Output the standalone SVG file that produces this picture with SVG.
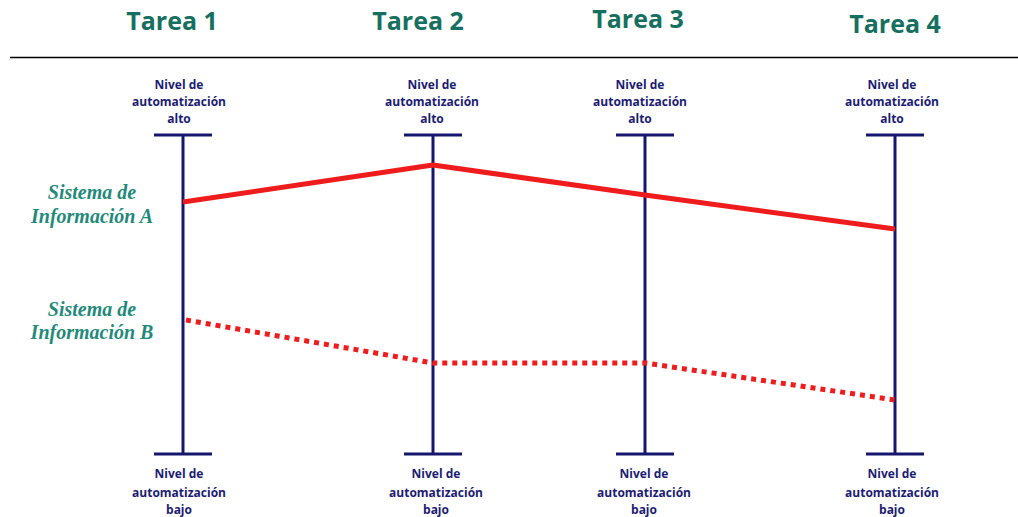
<svg xmlns="http://www.w3.org/2000/svg" width="1018" height="517" viewBox="0 0 1018 517">
  <style>
    .title { font-family: "Open Sans", "Liberation Sans", sans-serif; font-weight: bold; font-size: 25px; fill: #17705f; text-anchor: middle; }
    .lvl { font-family: "Open Sans", "Liberation Sans", sans-serif; font-weight: bold; font-size: 12px; fill: #1c1c72; text-anchor: middle; }
    .sys { font-family: "Liberation Serif", serif; font-weight: bold; font-style: italic; font-size: 20px; fill: #25897a; text-anchor: middle; }
    .axis { stroke: #16166e; stroke-width: 3; fill: none; }
    .solid { stroke: #ee1c1c; stroke-width: 5; fill: none; stroke-linejoin: round; }
    .dotted { stroke: #ee1c1c; stroke-width: 5; fill: none; stroke-dasharray: 5 5; }
  </style>
  <rect width="1018" height="517" fill="#ffffff"/>

  <!-- task headers -->
  <g id="headers">
    <text class="title" x="172" y="30">Tarea 1</text>
    <text class="title" x="418" y="30">Tarea 2</text>
    <text class="title" x="638" y="28">Tarea 3</text>
    <text class="title" x="895" y="33">Tarea 4</text>
    <line x1="10" y1="57.5" x2="1018" y2="57.5" stroke="#000" stroke-width="1.5"/>
  </g>

  <!-- system labels -->
  <g id="sistema-a">
    <text class="sys" x="92" y="199">Sistema de</text>
    <text class="sys" x="92" y="223">Información A</text>
  </g>
  <g id="sistema-b">
    <text class="sys" x="92" y="316">Sistema de</text>
    <text class="sys" x="92" y="339">Información B</text>
  </g>

  <!-- automation scales -->
  <g id="escala-1">
    <line class="axis" x1="154" y1="135" x2="212" y2="135"/>
    <line class="axis" x1="183" y1="135" x2="183" y2="454"/>
    <line class="axis" x1="154" y1="454" x2="212" y2="454"/>
    <text class="lvl" x="179" y="89">Nivel de</text>
    <text class="lvl" x="179" y="106">automatización</text>
    <text class="lvl" x="179" y="123">alto</text>
    <text class="lvl" x="179" y="478">Nivel de</text>
    <text class="lvl" x="179" y="497">automatización</text>
    <text class="lvl" x="179" y="514">bajo</text>
  </g>
  <g id="escala-2">
    <line class="axis" x1="404" y1="135" x2="462" y2="135"/>
    <line class="axis" x1="433" y1="135" x2="433" y2="454"/>
    <line class="axis" x1="404" y1="454" x2="462" y2="454"/>
    <text class="lvl" x="432" y="89">Nivel de</text>
    <text class="lvl" x="432" y="106">automatización</text>
    <text class="lvl" x="432" y="123">alto</text>
    <text class="lvl" x="436" y="478">Nivel de</text>
    <text class="lvl" x="436" y="497">automatización</text>
    <text class="lvl" x="436" y="514">bajo</text>
  </g>
  <g id="escala-3">
    <line class="axis" x1="616" y1="135" x2="674" y2="135"/>
    <line class="axis" x1="645" y1="135" x2="645" y2="454"/>
    <line class="axis" x1="616" y1="454" x2="674" y2="454"/>
    <text class="lvl" x="640" y="89">Nivel de</text>
    <text class="lvl" x="640" y="106">automatización</text>
    <text class="lvl" x="640" y="123">alto</text>
    <text class="lvl" x="644" y="478">Nivel de</text>
    <text class="lvl" x="644" y="497">automatización</text>
    <text class="lvl" x="644" y="514">bajo</text>
  </g>
  <g id="escala-4">
    <line class="axis" x1="866" y1="135" x2="924" y2="135"/>
    <line class="axis" x1="895" y1="135" x2="895" y2="454"/>
    <line class="axis" x1="866" y1="454" x2="924" y2="454"/>
    <text class="lvl" x="892" y="89">Nivel de</text>
    <text class="lvl" x="892" y="106">automatización</text>
    <text class="lvl" x="892" y="123">alto</text>
    <text class="lvl" x="892" y="478">Nivel de</text>
    <text class="lvl" x="892" y="497">automatización</text>
    <text class="lvl" x="892" y="514">bajo</text>
  </g>

  <!-- system profiles across tasks -->
  <g id="connectors">
    <polyline class="solid" points="183,202 433,165 645,195 895,229"/>
    <polyline class="dotted" points="186,320 433,363 645,363 895,400"/>
  </g>
</svg>
